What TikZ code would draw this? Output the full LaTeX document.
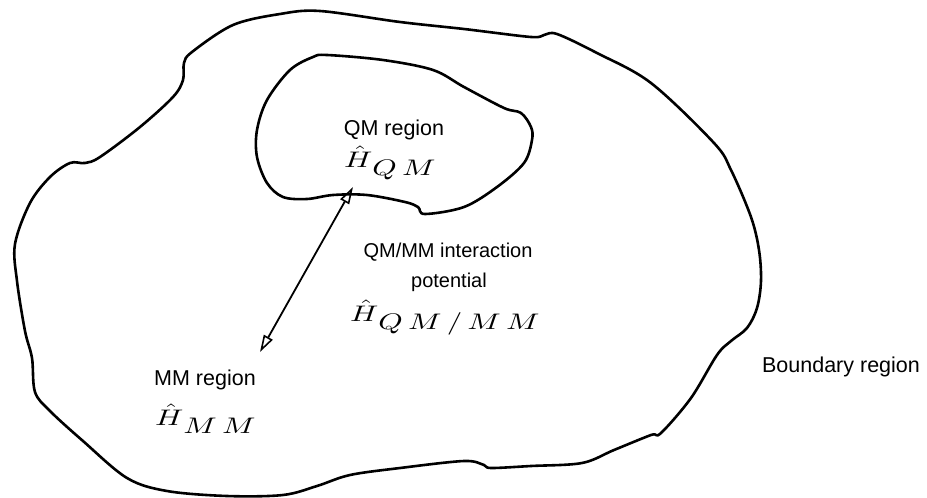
\documentclass[tikz,border=0pt]{standalone}
\usepackage{fontspec}
\setmainfont{Liberation Sans}
\usetikzlibrary{arrows.meta}
\tikzset{
  region/.style={line width=2.6pt, line join=round},
  lbl/.style={anchor=base, inner sep=0pt, font=\fontsize{21.5}{24}\selectfont},
  ilbl/.style={anchor=base, inner sep=0pt, font=\fontsize{20}{23}\selectfont},
  ham/.style={anchor=base west, inner sep=0pt},
  link/.style={line width=1.8pt,
    {Triangle[open,length=17pt,width=10pt,line width=1.6pt]}-{Triangle[open,length=17pt,width=10pt,line width=1.6pt]}}
}
\newcommand{\hamil}[1]{\scalebox{3.1}[2.25]{$\hat{H}$\raisebox{-3.6pt}{$#1$}}}
\begin{document}
\begin{tikzpicture}[x=1pt,y=-1pt]
\useasboundingbox (0,0) rectangle (927,498);
% outer MM region boundary
\draw[region] plot[smooth cycle, tension=0.55] coordinates {
 (320,11) (400,22) (464,29) (531,37) (544,35) (557,34) (597,53) (651,83)
 (714,143) (731,170) (751,217) (759,250) (761,281) (757,308) (747,328)
 (731,341) (717,355) (691,398) (661,433) (651,435) (614,450) (582,463)
 (531,466) (491,468) (484,465) (464,461) (400,468) (350,475) (317,486)
 (283,495) (227,496) (167,491) (127,478) (83,441) (50,411) (35,392)
 (32,358) (25,331) (17,281) (15,244) (30,203) (50,177) (70,163) (85,163)
 (100,157) (140,127) (173,97) (183,80) (184,63) (192,52) (233,25) (280,14)};
% inner QM region
\draw[region] plot[smooth cycle, tension=0.55] coordinates {
 (327,55) (383,60) (433,70) (464,87) (504,108) (521,113) (531,127)
 (532,140) (524,163) (497,187) (464,207) (425,214) (418,207) (405,202)
 (367,195) (333,195) (307,199) (283,197) (267,183) (257,157) (257,130)
 (267,100) (290,70) (313,57)};
% labels
\node[lbl] (qmlbl) at (394,135) {QM region};
\node[ham] (qmham) at (344,167) {\hamil{Q\,M}};
\node[ilbl] (intlbl) at (448,257) {QM/MM interaction};
\node[ilbl] (potlbl) at (449,287) {potential};
\node[ham] (intham) at (350,321) {\hamil{Q\,M\,/\,M\,M}};
\node[lbl] (mmlbl) at (205,385) {MM region};
\node[ham] (mmham) at (155,425) {\hamil{M\,M}};
\node[lbl] (bdlbl) at (841,372) {Boundary region};
% interaction arrow
\coordinate (qmend) at (353,187);
\coordinate (mmend) at (260,352);
\draw[link] (mmend) -- (qmend);
\end{tikzpicture}
\end{document}
